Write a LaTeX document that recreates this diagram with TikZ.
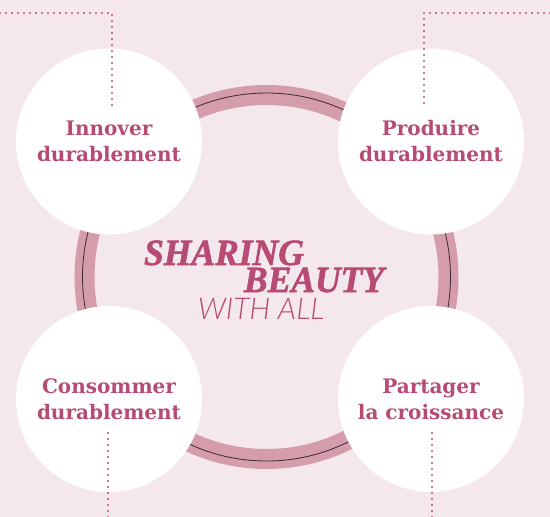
\documentclass[tikz,border=0pt]{standalone}
\usepackage{fontspec}
\newfontfamily\pillarfont{DejaVu Serif}
\newfontfamily\headfont{Liberation Serif}[BoldItalicFeatures={FakeBold=1.6}]
\newfontfamily\thinfont{Lato}[UprightFont=* Light Italic]
\definecolor{bgpink}{HTML}{F5E8EC}
\definecolor{bandpink}{HTML}{D59CAB}
\definecolor{rose}{HTML}{B84B74}
\definecolor{dotrose}{HTML}{BC4E78}
\definecolor{ringline}{HTML}{3A2A30}

\begin{document}
\begin{tikzpicture}[x=1pt, y=-1pt,
    pillar/.style={circle, fill=white, minimum size=186pt, inner sep=0pt, align=center, text=rose, font=\pillarfont\bfseries\fontsize{20}{26}\selectfont},
    band/.style={draw=bandpink, line width=20pt},
    dots/.style={draw=dotrose, line width=2.4pt, dash pattern=on 0pt off 6pt, line cap=round},
    title/.style={inner sep=0pt, anchor=base, text=rose, text depth=0pt},
]
\fill[bgpink] (0,0) rectangle (550,517);
\useasboundingbox (0,0) rectangle (550,517);

% ring behind the four pillars
\coordinate (hub) at (266.5,277);
\draw[band] (hub) circle[radius=182pt];
\draw[ringline, line width=0.8pt] (hub) circle[radius=184pt];

\node[pillar] (innover) at (109,141.5) {Innover\\durablement};
\node[pillar] (produire) at (431,141.5) {Produire\\durablement};
\node[pillar] (consommer) at (109,399) {Consommer\\durablement};
\node[pillar] (partager) at (431,399) {Partager\\la croissance};

% title
\node[title, font=\headfont\bfseries\itshape\fontsize{37}{37}\selectfont] (sharing) at (224,265) {\scalebox{0.96}[1]{SHARING}};
\node[title, font=\headfont\bfseries\itshape\fontsize{37}{37}\selectfont] (beauty) at (314,292) {\scalebox{0.96}[1]{BEAUTY}};
\node[title, font=\thinfont\fontsize{30}{30}\selectfont] (withall) at (261,319) {WITH ALL};

% dotted leaders
\coordinate (tlA) at (0,13);
\coordinate (tlB) at (112,13);
\coordinate (tlC) at (112,108);
\coordinate (trA) at (550,13);
\coordinate (trB) at (424,13);
\coordinate (trC) at (424,108);
\coordinate (blA) at (108,433);
\coordinate (blB) at (108,517);
\coordinate (brA) at (432,433);
\coordinate (brB) at (432,517);
\draw[dots] (tlA) -- (tlB) -- (tlC);
\draw[dots] (trA) -- (trB) -- (trC);
\draw[dots] (blA) -- (blB);
\draw[dots] (brA) -- (brB);
\end{tikzpicture}
\end{document}
